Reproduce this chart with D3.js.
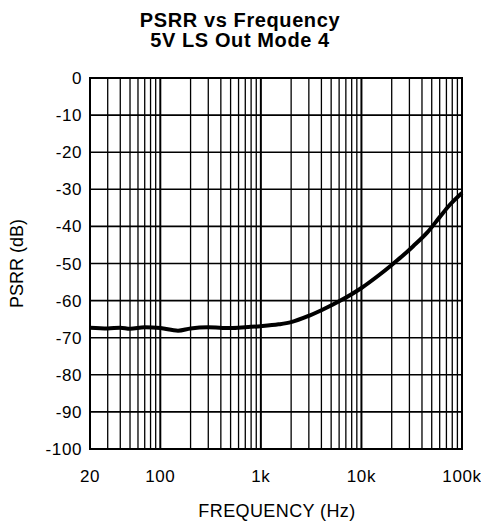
<!DOCTYPE html>
<html>
<head>
<meta charset="utf-8">
<script src="https://cdn.jsdelivr.net/npm/d3@7"></script>
<style>
  body { margin: 0; background: #fff; }
  svg { display: block; font-family: Arial, "Liberation Sans", Helvetica, sans-serif; }
</style>
</head>
<body>
<div id="chart"></div>
<script>
// curve: frequency (Hz) and PSRR (dB)
const freq = [20, 30, 40, 50, 70, 100, 150, 200, 300, 500, 700, 1000, 1500, 2000, 3000, 4000, 6000, 10000, 15000, 20000, 25000, 32500, 45000, 60000, 75000, 100000];
const psrr = [-67.3, -67.5, -67.3, -67.6, -67.2, -67.4, -68.1, -67.5, -67.2, -67.4, -67.2, -66.9, -66.4, -65.8, -64.1, -62.6, -60.2, -56.6, -53.1, -50.4, -48.2, -45.4, -41.7, -37.5, -34.3, -31.0];
const yTicks = [0, -10, -20, -30, -40, -50, -60, -70, -80, -90, -100];
const xLabels = [[20, '20'], [100, '100'], [1000, '1k'], [10000, '10k'], [100000, '100k']];

const width = 481, height = 525;
const margin = { top: 78, right: 19, bottom: 76, left: 90 };

const svg = d3.select('#chart').append('svg')
    .attr('width', width)
    .attr('height', height);

const x = d3.scaleLog()
    .domain([20, 100000])
    .range([margin.left, width - margin.right]);
const y = d3.scaleLinear()
    .domain([-100, 0])
    .range([height - margin.bottom, margin.top]);

// vertical grid: every 1-9 step of each decade
const vLines = [];
for (let dec = 10; dec <= 100000; dec *= 10) {
  for (let m = 1; m <= 9; m++) {
    const v = dec * m;
    if (v >= 20 && v <= 100000) vLines.push(v);
  }
}

svg.append('g').selectAll('line')
    .data(vLines)
  .enter().append('line')
    .attr('x1', (d) => x(d)).attr('x2', (d) => x(d))
    .attr('y1', y(0)).attr('y2', y(-100))
    .attr('stroke', '#000')
    .attr('stroke-width', (d) => (Math.log10(d) % 1 === 0 ? 2 : 1.3));

svg.append('g').selectAll('line')
    .data(yTicks)
  .enter().append('line')
    .attr('x1', x(20)).attr('x2', x(100000))
    .attr('y1', (d) => y(d)).attr('y2', (d) => y(d))
    .attr('stroke', '#000')
    .attr('stroke-width', 1.6);

svg.append('rect')
    .attr('x', x(20)).attr('y', y(0))
    .attr('width', x(100000) - x(20))
    .attr('height', y(-100) - y(0))
    .attr('fill', 'none')
    .attr('stroke', '#000')
    .attr('stroke-width', 2);

// curve
const line = d3.line()
    .x((d, i) => x(freq[i]))
    .y((d) => y(d))
    .curve(d3.curveMonotoneX);

svg.append('path')
    .datum(psrr)
    .attr('d', line)
    .attr('fill', 'none')
    .attr('stroke', '#000')
    .attr('stroke-width', 4)
    .attr('stroke-linejoin', 'round');

// tick labels
svg.append('g').selectAll('text')
    .data(yTicks)
  .enter().append('text')
    .attr('x', margin.left - 8)
    .attr('y', (d) => y(d) + 6)
    .attr('text-anchor', 'end')
    .attr('font-size', 17)
    .attr('letter-spacing', 0.6)
    .text((d) => d);

svg.append('g').selectAll('text')
    .data(xLabels)
  .enter().append('text')
    .attr('x', (d) => x(d[0]))
    .attr('y', 482)
    .attr('text-anchor', 'middle')
    .attr('font-size', 17)
    .attr('letter-spacing', 0.6)
    .text((d) => d[1]);

// titles
svg.append('text')
    .attr('x', 240).attr('y', 27)
    .attr('text-anchor', 'middle')
    .attr('font-size', 20).attr('font-weight', 'bold')
    .attr('letter-spacing', 0.6)
    .text('PSRR vs Frequency');
svg.append('text')
    .attr('x', 240).attr('y', 47)
    .attr('text-anchor', 'middle')
    .attr('font-size', 20).attr('font-weight', 'bold')
    .attr('letter-spacing', 0.6)
    .text('5V LS Out Mode 4');

svg.append('text')
    .attr('x', 277).attr('y', 517)
    .attr('text-anchor', 'middle')
    .attr('font-size', 18)
    .attr('letter-spacing', 0.4)
    .text('FREQUENCY (Hz)');

svg.append('text')
    .attr('transform', `translate(23, ${(y(0) + y(-100)) / 2}) rotate(-90)`)
    .attr('text-anchor', 'middle')
    .attr('font-size', 18)
    .text('PSRR (dB)');
</script>
</body>
</html>
